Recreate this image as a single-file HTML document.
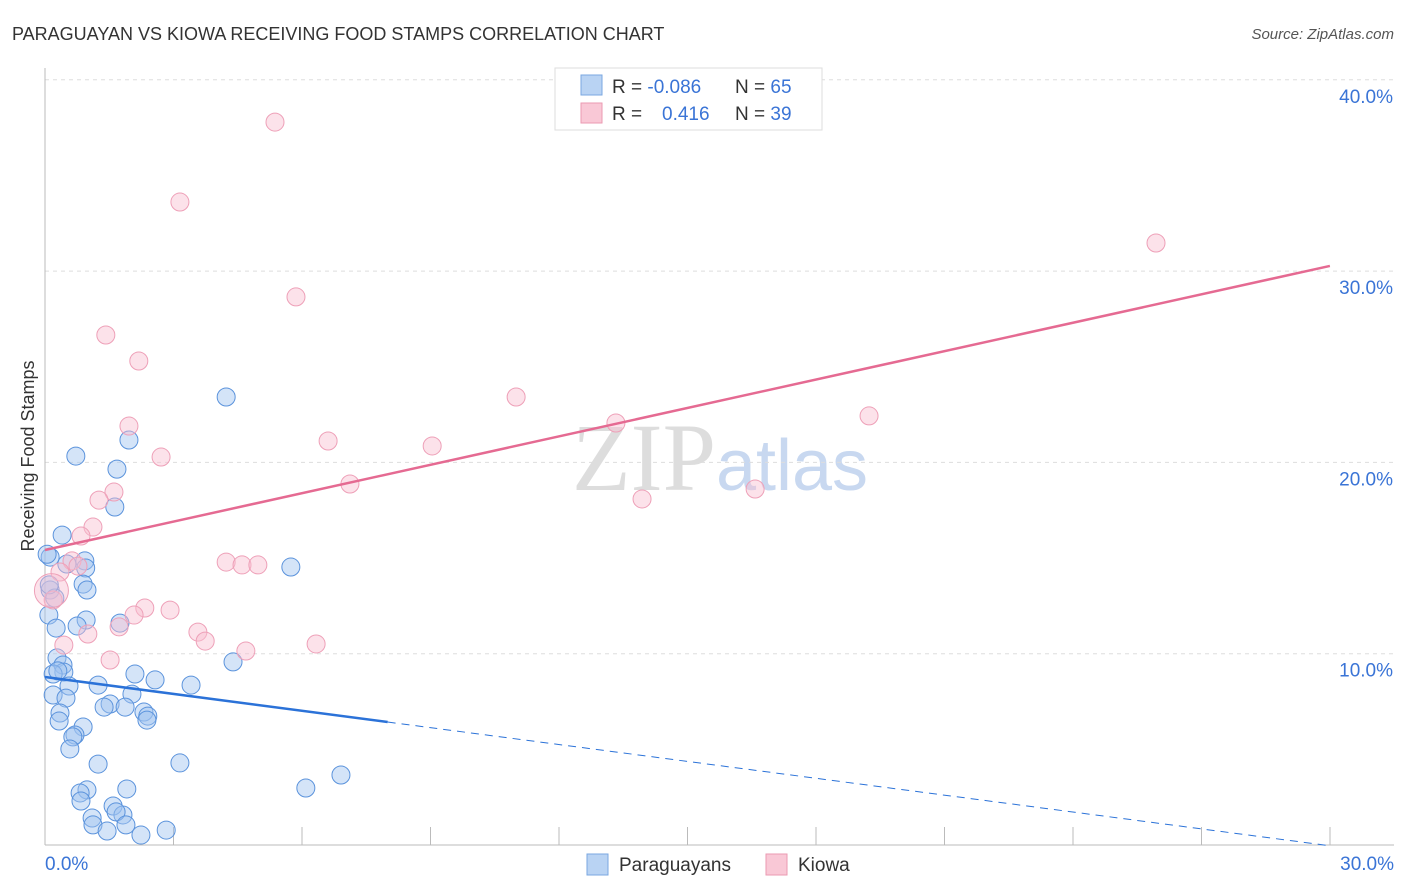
<!DOCTYPE html>
<html><head><meta charset="utf-8"><style>
body{margin:0;background:#fff;font-family:"Liberation Sans",sans-serif}
svg{display:block}
</style></head><body>
<svg id="c" width="1406" height="892">
<text x="12" y="40" font-size="18" fill="#333">PARAGUAYAN VS KIOWA RECEIVING FOOD STAMPS CORRELATION CHART</text>
<text x="1394" y="39" font-size="15" fill="#555" text-anchor="end" font-style="italic">Source: ZipAtlas.com</text>
<text x="34" y="456" font-size="18" fill="#333" text-anchor="middle" transform="rotate(-90 34 456)">Receiving Food Stamps</text>
<text x="720" y="490" font-size="96" fill="#ddd" text-anchor="middle" font-family="Liberation Serif,serif">ZIP<tspan fill="#c8d8f0" font-family="Liberation Sans,sans-serif" font-size="72">atlas</tspan></text>
<g id="grid"></g><g id="axes"></g><g id="pts"></g><g id="lines"></g>
<g>
<rect x="555" y="68" width="267" height="62" fill="#fff" stroke="#ddd"/>
<rect x="581" y="75" width="21" height="20" fill="#b9d3f3" stroke="#7aa7e0"/>
<text x="612" y="93" font-size="19" fill="#333">R = <tspan fill="#3a74d6">-0.086</tspan><tspan x="735">N = </tspan><tspan fill="#3a74d6">65</tspan></text>
<rect x="581" y="103" width="21" height="20" fill="#f9c8d6" stroke="#eb9ab2"/>
<text x="612" y="120" font-size="19" fill="#333">R = <tspan x="662" fill="#3a74d6">0.416</tspan><tspan x="735">N = </tspan><tspan fill="#3a74d6">39</tspan></text>
</g>
<g>
<rect x="587" y="854" width="21" height="21" fill="#b9d3f3" stroke="#7aa7e0"/>
<text x="619" y="871" font-size="19" fill="#333">Paraguayans</text>
<rect x="766" y="854" width="21" height="21" fill="#f9c8d6" stroke="#eb9ab2"/>
<text x="798" y="871" font-size="19" fill="#333">Kiowa</text>
</g>
</svg>
<script>
const yTicks=[10,20,30,40];
const yTickLabels=["10.0%","20.0%","30.0%","40.0%"];
const xLabels=["0.0%","30.0%"];
const blueX=[4.23,1.96,0.72,1.68,1.63,0.40,0.12,0.93,0.95,5.74,0.51,0.89,0.98,0.12,0.23,0.09,0.26,0.96,0.75,1.75,4.39,0.28,0.42,0.44,0.19,2.10,2.57,3.41,1.24,0.56,2.03,0.19,0.49,1.52,1.38,1.87,2.31,2.40,2.38,0.35,0.33,0.89,0.70,0.65,0.58,3.15,1.24,6.91,6.09,1.91,0.98,0.82,0.84,1.59,1.10,1.82,1.66,1.12,1.89,1.45,2.83,2.24,0.05,0.10,0.30];
const blueY=[23.42,21.17,20.33,19.65,17.67,16.20,15.05,14.85,14.48,14.53,14.69,13.64,13.33,13.33,12.91,12.02,11.34,11.76,11.45,11.6,9.57,9.78,9.41,9.04,8.94,8.94,8.63,8.36,8.36,8.31,7.89,7.84,7.68,7.37,7.21,7.21,6.95,6.74,6.53,6.90,6.48,6.17,5.75,5.65,5.02,4.29,4.23,3.66,2.98,2.93,2.88,2.72,2.30,2.04,1.41,1.57,1.73,1.05,1.05,0.73,0.78,0.52,15.2,13.6,9.1];
const pinkX=[5.37,3.15,25.94,5.86,1.42,2.19,11.0,19.24,1.96,13.33,6.61,9.04,2.71,7.12,16.58,13.94,1.61,1.26,1.12,0.84,4.23,4.60,4.97,0.63,0.77,0.35,0.19,2.33,2.08,2.92,1.73,1.00,3.57,3.74,0.44,6.33,4.69,1.52,0.15];
const pinkY=[37.79,33.61,31.47,28.65,26.66,25.30,23.42,22.43,21.90,22.06,21.12,20.86,20.28,18.87,18.61,18.09,18.45,18.03,16.62,16.15,14.79,14.64,14.64,14.85,14.58,14.27,12.81,12.39,12.02,12.28,11.40,11.03,11.13,10.66,10.45,10.51,10.14,9.67,13.3];
const blueFit=[8.78,-0.294], pinkFit=[15.42,0.495];
const X=v=>45+v*42.83, Y=v=>845-v*19.13;
const NS="http://www.w3.org/2000/svg";
function mk(t,a,p){const e=document.createElementNS(NS,t);for(const k in a)e.setAttribute(k,a[k]);p.appendChild(e);return e;}
const g=document.getElementById('grid'),ax=document.getElementById('axes'),pts=document.getElementById('pts'),ln=document.getElementById('lines');
yTicks.forEach((t,i)=>{
 const l=mk('line',{x1:45,x2:1394,y1:Y(t),y2:Y(t),stroke:'#ddd','stroke-dasharray':'4 4'},g);
 
 
 const tx=mk('text',{x:1393,y:Y(t)+23,'font-size':19,fill:'#3a74d6','text-anchor':'end'},ax);
 tx.textContent=yTickLabels[i];
 
 
});
const a1=mk('line',{x1:45,x2:45,y1:68,y2:845,stroke:'#bbb'},ax);


const a2=mk('line',{x1:45,x2:1394,y1:845,y2:845,stroke:'#bbb'},ax);


for(let i=1;i<=10;i++){const x=45+i*128.5;const t=mk('line',{x1:x,x2:x,y1:827,y2:845,stroke:'#bbb'},ax);
 
 }
[[X(0),'start',xLabels[0]],[1394,'end',xLabels[1]]].forEach(([x,a,s])=>{const t=mk('text',{x:x,y:870,'font-size':19,fill:'#3a74d6','text-anchor':a},ax);t.textContent=s;
 
 });
blueX.forEach((v,i)=>{const c=mk('circle',{cx:X(v),cy:Y(blueY[i]),r:9,fill:'rgba(160,196,240,0.45)',stroke:'#5b93dc','stroke-width':1},pts);
 
 });
pinkX.forEach((v,i)=>{const c=mk('circle',{cx:X(v),cy:Y(pinkY[i]),r:i==pinkX.length-1?17:9,fill:'rgba(248,190,208,0.45)',stroke:'#eea0b8','stroke-width':1},pts);
 
 });
const f=(fit,x)=>fit[0]+fit[1]*x;
let l=mk('line',{x1:X(0),y1:Y(f(blueFit,0)),x2:X(8),y2:Y(f(blueFit,8)),stroke:'#2b72d8','stroke-width':2.5},ln);


l=mk('line',{x1:X(8),y1:Y(f(blueFit,8)),x2:X(30),y2:Y(f(blueFit,30)),stroke:'#2b72d8','stroke-width':1,'stroke-dasharray':'8 6'},ln);


l=mk('line',{x1:X(0),y1:Y(f(pinkFit,0)),x2:X(30),y2:Y(f(pinkFit,30)),stroke:'#e56a92','stroke-width':2.5},ln);


</script>
</body></html>
